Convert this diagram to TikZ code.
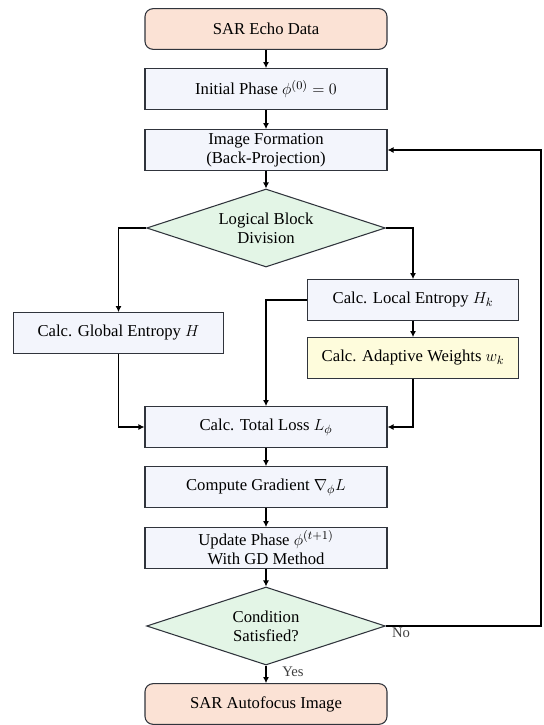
\documentclass[tikz,border=0pt]{standalone}
\usepackage{fontspec}
\setmainfont{Liberation Serif}
\usepackage{amsmath}
\usetikzlibrary{shapes.geometric,arrows.meta}

\definecolor{termfill}{HTML}{FBE2D5}
\definecolor{procfill}{HTML}{F3F5FC}
\definecolor{decfill}{HTML}{E3F5E6}
\definecolor{wfill}{HTML}{FEFCDC}
\definecolor{edge}{HTML}{30343C}

\tikzset{
  procbox/.style={draw=edge, fill=procfill, line width=0.8pt, align=center,
    inner sep=0pt, minimum width=181.5pt, minimum height=30.5pt},
  termbox/.style={procbox, fill=termfill, rounded corners=6pt},
  sidebox/.style={procbox, minimum width=158pt},
  decision/.style={diamond, draw=edge, fill=decfill, line width=0.8pt, align=center,
    inner sep=0pt, aspect=3, minimum width=179pt, minimum height=58.5pt},
  flow/.style={line width=0.9pt, draw=black, -{Latex[length=4.5pt,width=4.5pt]}},
  tag/.style={text=black!75, font=\fontsize{11}{13}\selectfont}
}

\begin{document}
\begin{tikzpicture}[x=0.75pt, y=-0.75pt, font=\fontsize{12.5}{14.5}\selectfont]

\useasboundingbox (0,0) rectangle (543,725);

% Main column
\node[termbox] (echo) at (266,29) {SAR Echo Data};
\node[procbox] (init) at (266,89) {Initial Phase $\phi^{(0)} = 0$};
\node[procbox] (bp) at (266,150) {Image Formation\\(Back-Projection)};
\node[decision] (block) at (266,228) {Logical Block\\Division};

% Entropy branches
\node[sidebox] (glob) at (118.5,333) {Calc. Global Entropy $H$};
\node[sidebox] (loc) at (413,300) {Calc. Local Entropy $H_k$};
\node[sidebox, fill=wfill] (wts) at (413,358) {Calc. Adaptive Weights $w_k$};

% Optimisation loop
\node[procbox] (loss) at (266,427) {Calc. Total Loss $L_\phi$};
\node[procbox] (grad) at (266,487) {Compute Gradient $\nabla_\phi L$};
\node[procbox] (upd) at (266,548) {Update Phase $\phi^{(t+1)}$\\With GD Method};
\node[decision] (cond) at (266,626) {Condition\\Satisfied?};
\node[termbox] (out) at (266,704) {SAR Autofocus Image};

% Labels
\node[tag] (no) at (401,633) {No};
\node[tag] (yes) at (293,672) {Yes};

% Straight arrows
\draw[flow] (echo) -- (init);
\draw[flow] (init) -- (bp);
\draw[flow] (bp) -- (block);
\draw[flow] (loss) -- (grad);
\draw[flow] (grad) -- (upd);
\draw[flow] (upd) -- (cond);
\draw[flow] (cond) -- (out);
\draw[flow] (loc) -- (wts);

% Elbow arrows
\draw[flow] (block.west) -| (glob.north);
\draw[flow] (block.east) -| (loc.north);
\draw[flow] (loc.west) -| (loss.north);
\draw[flow] (glob.south) |- (loss.west);
\draw[flow] (wts.south) |- (loss.east);

% Feedback
\coordinate (back) at (541,626);
\draw[flow] (cond.east) -- (back) |- (bp.east);

\end{tikzpicture}
\end{document}
